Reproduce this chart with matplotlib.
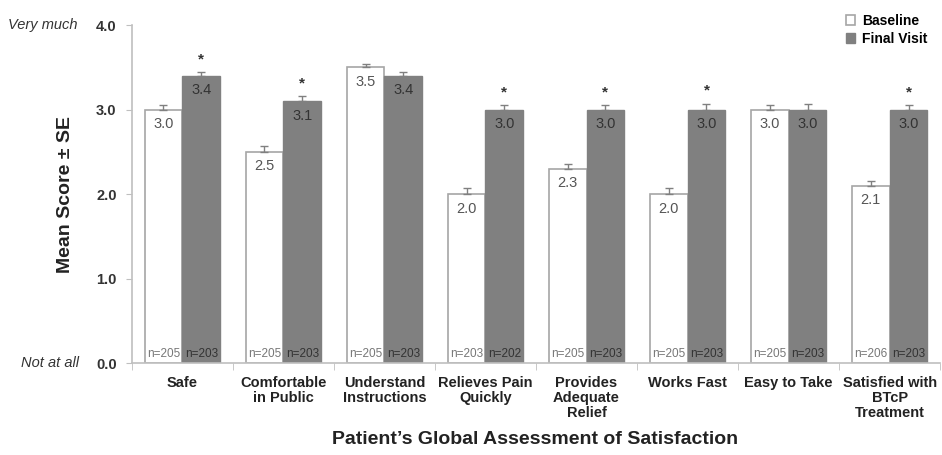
import matplotlib

matplotlib.use("Agg")
import matplotlib.pyplot as plt
import numpy as np

plt.rcParams["font.family"] = ["Liberation Sans", "DejaVu Sans"]

categories = [
    "Safe",
    "Comfortable\nin Public",
    "Understand\nInstructions",
    "Relieves Pain\nQuickly",
    "Provides\nAdequate\nRelief",
    "Works Fast",
    "Easy to Take",
    "Satisfied with\nBTcP\nTreatment",
]
baseline = [3.0, 2.5, 3.5, 2.0, 2.3, 2.0, 3.0, 2.1]
final = [3.4, 3.1, 3.4, 3.0, 3.0, 3.0, 3.0, 3.0]
baseline_se = [0.05, 0.07, 0.04, 0.07, 0.05, 0.07, 0.05, 0.06]
final_se = [0.04, 0.06, 0.04, 0.05, 0.05, 0.07, 0.06, 0.05]
baseline_n = [205, 205, 205, 203, 205, 205, 205, 206]
final_n = [203, 203, 203, 202, 203, 203, 203, 203]
significant = [True, True, False, True, True, True, False, True]

WHITE_EDGE = "#a6a6a6"
GREY = "#808080"
AXIS = "#bfbfbf"

fig = plt.figure(figsize=(9.42, 4.55), dpi=100)
ax = fig.add_axes([0.140, 0.202, 0.858, 0.743])

x = np.arange(len(categories))
w = 0.375
ax.bar(x - w / 2, baseline, w, color="white", edgecolor=WHITE_EDGE, lw=1.2, label="Baseline", zorder=2)
ax.bar(x + w / 2, final, w, color=GREY, edgecolor=GREY, lw=1.0, label="Final Visit", zorder=2)
ax.errorbar(x - w / 2, baseline, yerr=[np.zeros(len(x)), baseline_se], fmt="none",
            ecolor="#808080", elinewidth=1.0, capsize=3, capthick=1.0, zorder=3)
ax.errorbar(x + w / 2, final, yerr=[np.zeros(len(x)), final_se], fmt="none",
            ecolor="#808080", elinewidth=1.0, capsize=3, capthick=1.0, zorder=3)

for i in range(len(x)):
    ax.text(x[i] - w / 2, baseline[i] - 0.09, f"{baseline[i]:.1f}", ha="center", va="top",
            fontsize=10.5, color="#555555")
    ax.text(x[i] + w / 2, final[i] - 0.09, f"{final[i]:.1f}", ha="center", va="top",
            fontsize=10.5, color="#333333")
    ax.text(x[i] - w / 2, 0.04, f"n={baseline_n[i]}", ha="center", va="bottom",
            fontsize=8.5, color="#777777")
    ax.text(x[i] + w / 2, 0.04, f"n={final_n[i]}", ha="center", va="bottom",
            fontsize=8.5, color="#333333")
    if significant[i]:
        ax.text(x[i] + w / 2, final[i] + final_se[i] + 0.07, "*", ha="center", va="bottom",
                fontsize=11, fontweight="bold", color="#333333")

ax.set_xlim(-0.5, len(x) - 0.5)
ax.set_ylim(0, 4.0)
ax.set_yticks([0, 1, 2, 3, 4])
ax.set_yticklabels(["0.0", "1.0", "2.0", "3.0", "4.0"], fontweight="bold", fontsize=10.5,
                   color="#333333")
ax.set_xticks(x)
ax.set_xticklabels(categories, fontweight="bold", fontsize=10.5, color="#222222",
                   va="top", linespacing=1.1)
ax.tick_params(axis="x", length=0, pad=9)
ax.set_xticks(np.arange(len(x) + 1) - 0.5, minor=True)
ax.tick_params(axis="x", which="minor", length=5, color=AXIS)
ax.tick_params(axis="y", length=4, color=AXIS, pad=7)

for side in ("top", "right"):
    ax.spines[side].set_visible(False)
for side in ("left", "bottom"):
    ax.spines[side].set_color(AXIS)
    ax.spines[side].set_linewidth(1.2)

ax.set_ylabel("Mean Score \u00b1 SE", fontsize=14, fontweight="bold", color="#222222")
ax.yaxis.set_label_coords(-0.072, 0.5)
fig.text(0.568, 0.033, "Patient\u2019s Global Assessment of Satisfaction", ha="center",
         va="center", fontsize=14, fontweight="bold", color="#222222")
fig.text(0.008, 0.945, "Very much", ha="left", va="center", fontsize=10.5, style="italic",
         color="#333333")
fig.text(0.022, 0.202, "Not at all", ha="left", va="center", fontsize=10.5, style="italic",
         color="#333333")

ax.legend(loc="upper right", bbox_to_anchor=(1.0, 1.07), frameon=False,
          prop={"weight": "bold", "size": 10}, handlelength=0.7, handleheight=0.7,
          handletextpad=0.5, labelspacing=0.3)

fig.savefig("out.png", dpi=100)
